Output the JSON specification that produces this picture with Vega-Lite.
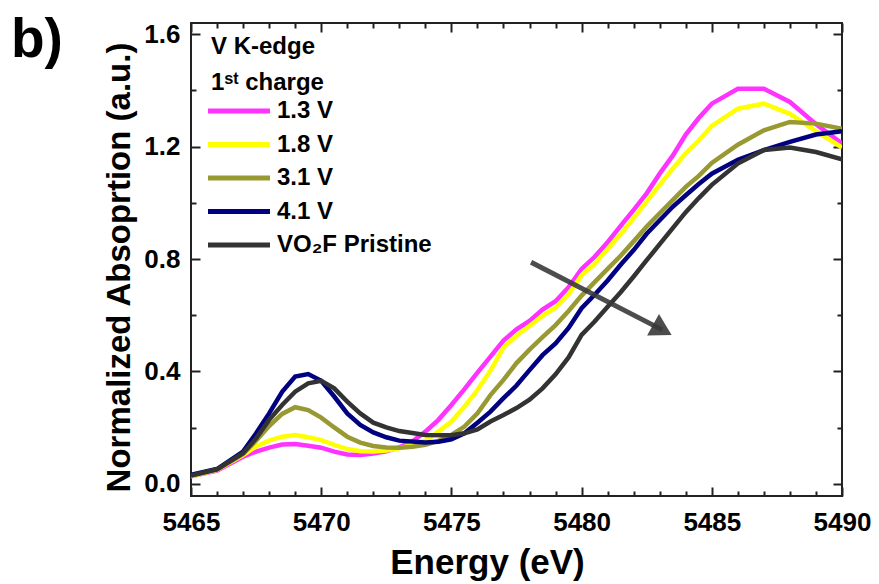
{
  "$schema": "https://vega.github.io/schema/vega-lite/v6.json",
  "width": 651,
  "height": 473,
  "autosize": "none",
  "padding": {"left": 191, "top": 23, "right": 37, "bottom": 88},
  "background": "white",
  "config": {"view": {"stroke": "#222222", "strokeWidth": 2}, "font": "Liberation Sans"},
  "title": {"text": "b)", "anchor": "start", "frame": "group", "fontSize": 55, "fontWeight": "bold", "font": "Liberation Sans", "color": "black", "baseline": "alphabetic", "offset": 0, "dx": -180, "dy": 91},
  "datasets": {
    "spectra": [
      {"series": "1.3 V", "E": 5465, "A": 0.027}, {"series": "1.3 V", "E": 5466, "A": 0.047}, {"series": "1.3 V", "E": 5467, "A": 0.097}, {"series": "1.3 V", "E": 5467.5, "A": 0.115}, {"series": "1.3 V", "E": 5468, "A": 0.129}, {"series": "1.3 V", "E": 5468.5, "A": 0.14}, {"series": "1.3 V", "E": 5469, "A": 0.142}, {"series": "1.3 V", "E": 5469.5, "A": 0.136}, {"series": "1.3 V", "E": 5470, "A": 0.129}, {"series": "1.3 V", "E": 5470.5, "A": 0.115}, {"series": "1.3 V", "E": 5471, "A": 0.105}, {"series": "1.3 V", "E": 5471.5, "A": 0.103}, {"series": "1.3 V", "E": 5472, "A": 0.108}, {"series": "1.3 V", "E": 5472.5, "A": 0.116}, {"series": "1.3 V", "E": 5473, "A": 0.13}, {"series": "1.3 V", "E": 5473.5, "A": 0.151}, {"series": "1.3 V", "E": 5474, "A": 0.186}, {"series": "1.3 V", "E": 5474.5, "A": 0.228}, {"series": "1.3 V", "E": 5475, "A": 0.281}, {"series": "1.3 V", "E": 5475.5, "A": 0.337}, {"series": "1.3 V", "E": 5476, "A": 0.396}, {"series": "1.3 V", "E": 5476.5, "A": 0.453}, {"series": "1.3 V", "E": 5477, "A": 0.51}, {"series": "1.3 V", "E": 5477.5, "A": 0.55}, {"series": "1.3 V", "E": 5478, "A": 0.58}, {"series": "1.3 V", "E": 5478.5, "A": 0.62}, {"series": "1.3 V", "E": 5479, "A": 0.65}, {"series": "1.3 V", "E": 5479.5, "A": 0.7}, {"series": "1.3 V", "E": 5480, "A": 0.765}, {"series": "1.3 V", "E": 5480.5, "A": 0.808}, {"series": "1.3 V", "E": 5481, "A": 0.86}, {"series": "1.3 V", "E": 5481.5, "A": 0.918}, {"series": "1.3 V", "E": 5482, "A": 0.975}, {"series": "1.3 V", "E": 5482.5, "A": 1.034}, {"series": "1.3 V", "E": 5483, "A": 1.104}, {"series": "1.3 V", "E": 5483.5, "A": 1.168}, {"series": "1.3 V", "E": 5484, "A": 1.243}, {"series": "1.3 V", "E": 5484.5, "A": 1.302}, {"series": "1.3 V", "E": 5485, "A": 1.353}, {"series": "1.3 V", "E": 5486, "A": 1.406}, {"series": "1.3 V", "E": 5487, "A": 1.406}, {"series": "1.3 V", "E": 5488, "A": 1.359}, {"series": "1.3 V", "E": 5489, "A": 1.28}, {"series": "1.3 V", "E": 5490, "A": 1.211},

      {"series": "1.8 V", "E": 5465, "A": 0.027}, {"series": "1.8 V", "E": 5466, "A": 0.05}, {"series": "1.8 V", "E": 5467, "A": 0.103}, {"series": "1.8 V", "E": 5467.5, "A": 0.133}, {"series": "1.8 V", "E": 5468, "A": 0.154}, {"series": "1.8 V", "E": 5468.5, "A": 0.168}, {"series": "1.8 V", "E": 5469, "A": 0.174}, {"series": "1.8 V", "E": 5469.5, "A": 0.166}, {"series": "1.8 V", "E": 5470, "A": 0.156}, {"series": "1.8 V", "E": 5470.5, "A": 0.139}, {"series": "1.8 V", "E": 5471, "A": 0.124}, {"series": "1.8 V", "E": 5471.5, "A": 0.116}, {"series": "1.8 V", "E": 5472, "A": 0.115}, {"series": "1.8 V", "E": 5472.5, "A": 0.119}, {"series": "1.8 V", "E": 5473, "A": 0.127}, {"series": "1.8 V", "E": 5473.5, "A": 0.139}, {"series": "1.8 V", "E": 5474, "A": 0.154}, {"series": "1.8 V", "E": 5474.5, "A": 0.186}, {"series": "1.8 V", "E": 5475, "A": 0.222}, {"series": "1.8 V", "E": 5475.5, "A": 0.275}, {"series": "1.8 V", "E": 5476, "A": 0.334}, {"series": "1.8 V", "E": 5476.5, "A": 0.403}, {"series": "1.8 V", "E": 5477, "A": 0.485}, {"series": "1.8 V", "E": 5477.5, "A": 0.527}, {"series": "1.8 V", "E": 5478, "A": 0.562}, {"series": "1.8 V", "E": 5478.5, "A": 0.598}, {"series": "1.8 V", "E": 5479, "A": 0.627}, {"series": "1.8 V", "E": 5479.5, "A": 0.675}, {"series": "1.8 V", "E": 5480, "A": 0.742}, {"series": "1.8 V", "E": 5480.5, "A": 0.783}, {"series": "1.8 V", "E": 5481, "A": 0.836}, {"series": "1.8 V", "E": 5481.5, "A": 0.888}, {"series": "1.8 V", "E": 5482, "A": 0.946}, {"series": "1.8 V", "E": 5482.5, "A": 1.005}, {"series": "1.8 V", "E": 5483, "A": 1.064}, {"series": "1.8 V", "E": 5483.5, "A": 1.122}, {"series": "1.8 V", "E": 5484, "A": 1.176}, {"series": "1.8 V", "E": 5484.5, "A": 1.222}, {"series": "1.8 V", "E": 5485, "A": 1.274}, {"series": "1.8 V", "E": 5486, "A": 1.335}, {"series": "1.8 V", "E": 5487, "A": 1.353}, {"series": "1.8 V", "E": 5488, "A": 1.317}, {"series": "1.8 V", "E": 5489, "A": 1.255}, {"series": "1.8 V", "E": 5490, "A": 1.197},

      {"series": "3.1 V", "E": 5465, "A": 0.03}, {"series": "3.1 V", "E": 5466, "A": 0.052}, {"series": "3.1 V", "E": 5467, "A": 0.107}, {"series": "3.1 V", "E": 5467.5, "A": 0.154}, {"series": "3.1 V", "E": 5468, "A": 0.206}, {"series": "3.1 V", "E": 5468.5, "A": 0.249}, {"series": "3.1 V", "E": 5469, "A": 0.273}, {"series": "3.1 V", "E": 5469.5, "A": 0.263}, {"series": "3.1 V", "E": 5470, "A": 0.236}, {"series": "3.1 V", "E": 5470.5, "A": 0.201}, {"series": "3.1 V", "E": 5471, "A": 0.168}, {"series": "3.1 V", "E": 5471.5, "A": 0.147}, {"series": "3.1 V", "E": 5472, "A": 0.135}, {"series": "3.1 V", "E": 5472.5, "A": 0.13}, {"series": "3.1 V", "E": 5473, "A": 0.129}, {"series": "3.1 V", "E": 5473.5, "A": 0.132}, {"series": "3.1 V", "E": 5474, "A": 0.139}, {"series": "3.1 V", "E": 5474.5, "A": 0.153}, {"series": "3.1 V", "E": 5475, "A": 0.174}, {"series": "3.1 V", "E": 5475.5, "A": 0.204}, {"series": "3.1 V", "E": 5476, "A": 0.251}, {"series": "3.1 V", "E": 5476.5, "A": 0.316}, {"series": "3.1 V", "E": 5477, "A": 0.37}, {"series": "3.1 V", "E": 5477.5, "A": 0.43}, {"series": "3.1 V", "E": 5478, "A": 0.478}, {"series": "3.1 V", "E": 5478.5, "A": 0.522}, {"series": "3.1 V", "E": 5479, "A": 0.565}, {"series": "3.1 V", "E": 5479.5, "A": 0.615}, {"series": "3.1 V", "E": 5480, "A": 0.67}, {"series": "3.1 V", "E": 5480.5, "A": 0.718}, {"series": "3.1 V", "E": 5481, "A": 0.765}, {"series": "3.1 V", "E": 5481.5, "A": 0.812}, {"series": "3.1 V", "E": 5482, "A": 0.863}, {"series": "3.1 V", "E": 5482.5, "A": 0.916}, {"series": "3.1 V", "E": 5483, "A": 0.963}, {"series": "3.1 V", "E": 5483.5, "A": 1.01}, {"series": "3.1 V", "E": 5484, "A": 1.057}, {"series": "3.1 V", "E": 5484.5, "A": 1.096}, {"series": "3.1 V", "E": 5485, "A": 1.142}, {"series": "3.1 V", "E": 5486, "A": 1.207}, {"series": "3.1 V", "E": 5487, "A": 1.258}, {"series": "3.1 V", "E": 5488, "A": 1.288}, {"series": "3.1 V", "E": 5489, "A": 1.282}, {"series": "3.1 V", "E": 5490, "A": 1.264},

      {"series": "4.1 V", "E": 5465, "A": 0.032}, {"series": "4.1 V", "E": 5466, "A": 0.053}, {"series": "4.1 V", "E": 5467, "A": 0.115}, {"series": "4.1 V", "E": 5467.5, "A": 0.18}, {"series": "4.1 V", "E": 5468, "A": 0.251}, {"series": "4.1 V", "E": 5468.5, "A": 0.328}, {"series": "4.1 V", "E": 5469, "A": 0.382}, {"series": "4.1 V", "E": 5469.5, "A": 0.391}, {"series": "4.1 V", "E": 5470, "A": 0.367}, {"series": "4.1 V", "E": 5470.5, "A": 0.311}, {"series": "4.1 V", "E": 5471, "A": 0.251}, {"series": "4.1 V", "E": 5471.5, "A": 0.21}, {"series": "4.1 V", "E": 5472, "A": 0.183}, {"series": "4.1 V", "E": 5472.5, "A": 0.166}, {"series": "4.1 V", "E": 5473, "A": 0.154}, {"series": "4.1 V", "E": 5474, "A": 0.147}, {"series": "4.1 V", "E": 5474.5, "A": 0.15}, {"series": "4.1 V", "E": 5475, "A": 0.159}, {"series": "4.1 V", "E": 5475.5, "A": 0.18}, {"series": "4.1 V", "E": 5476, "A": 0.218}, {"series": "4.1 V", "E": 5476.5, "A": 0.257}, {"series": "4.1 V", "E": 5477, "A": 0.305}, {"series": "4.1 V", "E": 5477.5, "A": 0.35}, {"series": "4.1 V", "E": 5478, "A": 0.405}, {"series": "4.1 V", "E": 5478.5, "A": 0.458}, {"series": "4.1 V", "E": 5479, "A": 0.5}, {"series": "4.1 V", "E": 5479.5, "A": 0.555}, {"series": "4.1 V", "E": 5480, "A": 0.625}, {"series": "4.1 V", "E": 5480.5, "A": 0.673}, {"series": "4.1 V", "E": 5481, "A": 0.724}, {"series": "4.1 V", "E": 5481.5, "A": 0.78}, {"series": "4.1 V", "E": 5482, "A": 0.832}, {"series": "4.1 V", "E": 5482.5, "A": 0.89}, {"series": "4.1 V", "E": 5483, "A": 0.938}, {"series": "4.1 V", "E": 5483.5, "A": 0.986}, {"series": "4.1 V", "E": 5484, "A": 1.027}, {"series": "4.1 V", "E": 5484.5, "A": 1.067}, {"series": "4.1 V", "E": 5485, "A": 1.104}, {"series": "4.1 V", "E": 5486, "A": 1.153}, {"series": "4.1 V", "E": 5487, "A": 1.188}, {"series": "4.1 V", "E": 5488, "A": 1.217}, {"series": "4.1 V", "E": 5489, "A": 1.243}, {"series": "4.1 V", "E": 5490, "A": 1.255},

      {"series": "VO₂F Pristine", "E": 5465, "A": 0.03}, {"series": "VO₂F Pristine", "E": 5466, "A": 0.052}, {"series": "VO₂F Pristine", "E": 5467, "A": 0.109}, {"series": "VO₂F Pristine", "E": 5467.5, "A": 0.162}, {"series": "VO₂F Pristine", "E": 5468, "A": 0.228}, {"series": "VO₂F Pristine", "E": 5468.5, "A": 0.281}, {"series": "VO₂F Pristine", "E": 5469, "A": 0.328}, {"series": "VO₂F Pristine", "E": 5469.5, "A": 0.358}, {"series": "VO₂F Pristine", "E": 5470, "A": 0.367}, {"series": "VO₂F Pristine", "E": 5470.5, "A": 0.34}, {"series": "VO₂F Pristine", "E": 5471, "A": 0.293}, {"series": "VO₂F Pristine", "E": 5471.5, "A": 0.251}, {"series": "VO₂F Pristine", "E": 5472, "A": 0.218}, {"series": "VO₂F Pristine", "E": 5472.5, "A": 0.201}, {"series": "VO₂F Pristine", "E": 5473, "A": 0.188}, {"series": "VO₂F Pristine", "E": 5474, "A": 0.174}, {"series": "VO₂F Pristine", "E": 5475, "A": 0.173}, {"series": "VO₂F Pristine", "E": 5475.5, "A": 0.18}, {"series": "VO₂F Pristine", "E": 5476, "A": 0.194}, {"series": "VO₂F Pristine", "E": 5476.5, "A": 0.222}, {"series": "VO₂F Pristine", "E": 5477, "A": 0.245}, {"series": "VO₂F Pristine", "E": 5477.5, "A": 0.27}, {"series": "VO₂F Pristine", "E": 5478, "A": 0.3}, {"series": "VO₂F Pristine", "E": 5478.5, "A": 0.34}, {"series": "VO₂F Pristine", "E": 5479, "A": 0.39}, {"series": "VO₂F Pristine", "E": 5479.5, "A": 0.45}, {"series": "VO₂F Pristine", "E": 5480, "A": 0.53}, {"series": "VO₂F Pristine", "E": 5480.5, "A": 0.578}, {"series": "VO₂F Pristine", "E": 5481, "A": 0.63}, {"series": "VO₂F Pristine", "E": 5481.5, "A": 0.682}, {"series": "VO₂F Pristine", "E": 5482, "A": 0.738}, {"series": "VO₂F Pristine", "E": 5482.5, "A": 0.796}, {"series": "VO₂F Pristine", "E": 5483, "A": 0.853}, {"series": "VO₂F Pristine", "E": 5483.5, "A": 0.91}, {"series": "VO₂F Pristine", "E": 5484, "A": 0.967}, {"series": "VO₂F Pristine", "E": 5484.5, "A": 1.017}, {"series": "VO₂F Pristine", "E": 5485, "A": 1.064}, {"series": "VO₂F Pristine", "E": 5486, "A": 1.14}, {"series": "VO₂F Pristine", "E": 5487, "A": 1.188}, {"series": "VO₂F Pristine", "E": 5488, "A": 1.197}, {"series": "VO₂F Pristine", "E": 5489, "A": 1.181}, {"series": "VO₂F Pristine", "E": 5490, "A": 1.155}
    ],
    "arrow": [{"E": 5478.06, "A": 0.789, "E2": 5483.1, "A2": 0.548}],
    "head": [{"E": 5483.1, "A": 0.548}]
  },
  "layer": [
    {
      "data": {"name": "spectra"},
      "mark": {"type": "line", "strokeWidth": 4.5, "clip": true},
      "encoding": {
        "x": {"field": "E", "type": "quantitative", "scale": {"domain": [5465, 5490], "nice": false, "zero": false},
          "axis": {"orient": "bottom", "values": [5465,5466,5467,5468,5469,5470,5471,5472,5473,5474,5475,5476,5477,5478,5479,5480,5481,5482,5483,5484,5485,5486,5487,5488,5489,5490],
            "format": "d", "labelExpr": "datum.value % 5 === 0 ? datum.label : ''",
            "tickSize": {"condition": {"test": "datum.value % 5 === 0", "value": -9}, "value": -5},
            "tickColor": "#222222", "tickWidth": 2, "domain": false, "grid": false,
            "labelFont": "Liberation Sans", "labelFontSize": 26, "labelFontWeight": "bold", "labelColor": "black", "labelPadding": 22, "labelFlush": false, "labelOverlap": false, "labelBound": false,
            "title": "Energy (eV)", "titleFont": "Liberation Sans", "titleFontSize": 35, "titleFontWeight": "bold", "titleColor": "black",
            "titleX": 296, "titleY": 77, "titleBaseline": "alphabetic", "titleAlign": "center"}},
        "y": {"field": "A", "type": "quantitative", "scale": {"domain": [-0.043, 1.64], "nice": false, "zero": false},
          "axis": {"orient": "left", "values": [0,0.2,0.4,0.6,0.8,1.0,1.2,1.4,1.6],
            "format": ".1f", "labelExpr": "round(datum.value*10) % 4 === 0 ? datum.label : ''",
            "tickSize": {"condition": {"test": "round(datum.value*10) % 4 === 0", "value": -9}, "value": -5},
            "tickColor": "#222222", "tickWidth": 2, "domain": false, "grid": false,
            "labelFont": "Liberation Sans", "labelFontSize": 26, "labelFontWeight": "bold", "labelColor": "black", "labelPadding": 20, "labelFlush": false, "labelOverlap": false, "labelBound": false,
            "title": "Normalized Absoprtion (a.u.)", "titleFont": "Liberation Sans", "titleFontSize": 33, "titleFontWeight": "bold", "titleColor": "black",
            "titleX": -62, "titleY": 244, "titleAngle": 270, "titleBaseline": "alphabetic", "titleAlign": "center"}},
        "color": {"field": "series", "type": "nominal",
          "scale": {"domain": ["1.3 V", "1.8 V", "3.1 V", "4.1 V", "VO₂F Pristine"], "range": ["#ff33ff", "#ffff00", "#999933", "#000080", "#333333"]},
          "legend": {"orient": "none", "legendX": 20, "legendY": 12, "title": ["V K-edge", "1ˢᵗ charge"],
            "titleFont": "Liberation Sans", "titleFontSize": 24, "titleFontWeight": "bold", "titleColor": "black", "titleLineHeight": 36, "titleBaseline": "top", "titlePadding": 3,
            "labelFont": "Liberation Sans", "labelFontSize": 24, "labelFontWeight": "bold", "labelColor": "black", "labelLimit": 400,
            "symbolType": "M-3,0H3", "symbolSize": 427, "symbolStrokeWidth": 5, "symbolOffset": 15, "labelOffset": 25, "rowPadding": 8.5, "padding": 0}}
      }
    },
    {
      "data": {"name": "spectra"},
      "mark": {"type": "line", "strokeOpacity": 0, "clip": true},
      "encoding": {
        "x": {"field": "E", "type": "quantitative",
          "axis": {"orient": "top", "values": [5465,5466,5467,5468,5469,5470,5471,5472,5473,5474,5475,5476,5477,5478,5479,5480,5481,5482,5483,5484,5485,5486,5487,5488,5489,5490],
            "labels": false, "title": null, "domain": false, "grid": false,
            "tickSize": {"condition": {"test": "datum.value % 5 === 0", "value": -9}, "value": -5},
            "tickColor": "#222222", "tickWidth": 2}},
        "y": {"field": "A", "type": "quantitative",
          "axis": {"orient": "right", "values": [0,0.2,0.4,0.6,0.8,1.0,1.2,1.4,1.6],
            "labels": false, "title": null, "domain": false, "grid": false,
            "tickSize": {"condition": {"test": "round(datum.value*10) % 4 === 0", "value": -9}, "value": -5},
            "tickColor": "#222222", "tickWidth": 2}},
        "detail": {"field": "series", "type": "nominal"}
      }
    },
    {
      "data": {"name": "arrow"},
      "mark": {"type": "rule", "strokeWidth": 5, "color": "#3a3a3a", "opacity": 0.9},
      "encoding": {
        "x": {"field": "E", "type": "quantitative", "axis": null},
        "y": {"field": "A", "type": "quantitative", "axis": null},
        "x2": {"field": "E2"},
        "y2": {"field": "A2"}
      }
    },
    {
      "data": {"name": "head"},
      "mark": {"type": "point", "shape": "triangle-right", "filled": true, "size": 600, "angle": 29, "color": "#3a3a3a", "opacity": 0.9},
      "encoding": {
        "x": {"field": "E", "type": "quantitative", "axis": null},
        "y": {"field": "A", "type": "quantitative", "axis": null}
      }
    }
  ],
  "resolve": {"axis": {"x": "independent", "y": "independent"}}
}
